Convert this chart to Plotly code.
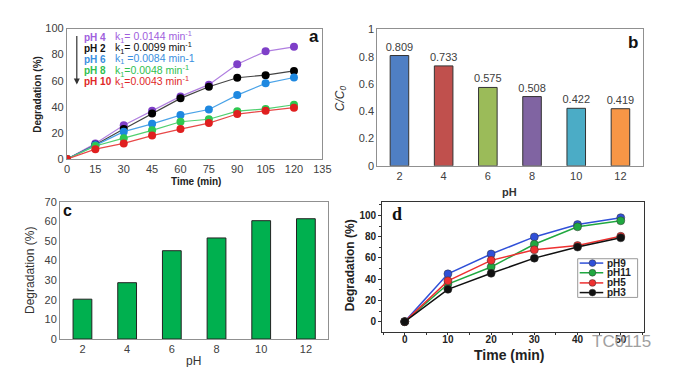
import plotly.graph_objects as go

W, H = 673, 367

# ---------- data ----------
time_a = [0, 15, 30, 45, 60, 75, 90, 105, 120]
a_series = {
    "pH 4": [0, 12, 25.9, 37, 48, 57, 72.7, 82.5, 86],
    "pH 2": [0, 11, 23, 35, 46.5, 55.4, 62.3, 64.3, 67.5],
    "pH 6": [0, 10.8, 21, 27, 33.7, 38, 49, 58, 62.5],
    "pH 8": [0, 10, 16, 22, 28.6, 30.5, 36.7, 38.4, 41.6],
    "pH 10": [0, 7.6, 12, 18, 23, 27.6, 34.5, 37, 39.4],
}
a_k = ["k<sub>1</sub>= 0.0144 min<sup>-1</sup>", "k<sub>1</sub>= 0.0099 min<sup>-1</sup>",
       "k<sub>1</sub> =0.0084 min-1", "k<sub>1</sub>=0.0048 min<sup>-1</sup>",
       "k<sub>1</sub>=0.0043 min<sup>-1</sup>"]
a_line_colors = ["#b07fe0", "#444444", "#4aa3e8", "#50d070", "#e84848"]
a_marker_colors = ["#7e3fc8", "#000000", "#1e88e0", "#2ec850", "#e01f1f"]
a_text_colors = ["#a060dd", "#111111", "#3a8fe0", "#30c050", "#e02828"]

ph_b = ["2", "4", "6", "8", "10", "12"]
cc0_b = [0.809, 0.733, 0.575, 0.508, 0.422, 0.419]
b_colors = ["#4f7fc4", "#c0504d", "#9bbb59", "#8064a2", "#4bacc6", "#f79646"]

ph_c = ["2", "4", "6", "8", "10", "12"]
deg_c = [20.3, 28.7, 45, 51.5, 60.3, 61.3]

time_d = [0, 10, 20, 30, 40, 50]
d_series = {
    "pH9": [0, 45, 63.7, 79.8, 91.4, 97.9],
    "pH11": [0, 35.4, 51.5, 72.9, 89.3, 95],
    "pH5": [0, 38.4, 57.7, 67.6, 71.7, 80.4],
    "pH3": [0, 30.4, 45.5, 59.8, 70.2, 78.9],
}
d_colors = ["#3050d8", "#20a840", "#ee3030", "#111111"]


def px_x(p):
    return p / W


def px_y(p):
    return 1 - p / H


fig = go.Figure()

# ---------- panel a ----------
for i, (name, vals) in enumerate(a_series.items()):
    fig.add_trace(go.Scatter(
        x=time_a, y=vals, mode="lines+markers", name=name, showlegend=False,
        line=dict(color=a_line_colors[i], width=1.2),
        marker=dict(color=a_marker_colors[i], size=8),
        xaxis="x", yaxis="y"))

# ---------- panel b ----------
fig.add_trace(go.Bar(
    x=ph_b, y=cc0_b, marker=dict(color=b_colors, line=dict(color="#333333", width=1)),
    text=[f"{v:.3f}" for v in cc0_b], textposition="outside", constraintext="none",
    textfont=dict(size=11, color="#404040", family="Liberation Sans"),
    cliponaxis=False, showlegend=False, xaxis="x2", yaxis="y2"))

# ---------- panel c ----------
fig.add_trace(go.Bar(
    x=ph_c, y=deg_c, marker=dict(color="#00b04f", line=dict(color="#222222", width=1)),
    showlegend=False, xaxis="x3", yaxis="y3"))

# ---------- panel d ----------
for i, (name, vals) in enumerate(d_series.items()):
    fig.add_trace(go.Scatter(
        x=time_d, y=vals, mode="lines+markers", name=name, showlegend=False,
        line=dict(color=d_colors[i], width=1.5),
        marker=dict(color=d_colors[i], size=8, line=dict(color="#333333", width=0.5)),
        xaxis="x4", yaxis="y4"))

tickfont_a = dict(size=11, color="#404040", family="Liberation Sans")
box = dict(showline=True, mirror=True, linecolor="#909090", linewidth=1.2,
           showgrid=False, zeroline=False)

fig.update_layout(
    width=W, height=H, margin=dict(l=0, r=0, t=0, b=0),
    paper_bgcolor="white", plot_bgcolor="white",
    font=dict(family="Liberation Sans"),
    xaxis=dict(domain=[px_x(57), px_x(317)], range=[0, 135], dtick=15, tickfont=tickfont_a,
               anchor="y", ticks="", **box),
    yaxis=dict(domain=[px_y(150), px_y(15)], range=[0, 100], dtick=20, tickfont=tickfont_a,
               anchor="x", ticks="", **box),
    xaxis2=dict(domain=[px_x(373), px_x(643)], tickfont=tickfont_a, anchor="y2", ticks="", **box),
    yaxis2=dict(domain=[px_y(157), px_y(16)], range=[0, 1], dtick=0.2, tickfont=tickfont_a,
                anchor="x2", ticks="", **box),
    xaxis3=dict(domain=[px_x(50), px_x(323)], tickfont=tickfont_a, anchor="y3", ticks="", **box),
    yaxis3=dict(domain=[px_y(336), px_y(194)], range=[0, 70], dtick=10, tickfont=tickfont_a,
                anchor="x3", ticks="", **box),
    xaxis4=dict(domain=[px_x(378), px_x(645)], range=[-5.2, 55.5], dtick=10, anchor="y4",
                tickfont=dict(size=10, color="#222222", family="Liberation Sans", weight="bold"),
                ticks="outside", ticklen=2, tickcolor="#333333", ticklabelstandoff=-4,
                minor=dict(dtick=5, ticks="outside", ticklen=2, tickcolor="#333333"),
                showline=True, mirror=True, linecolor="#333333", linewidth=1.2,
                showgrid=False, zeroline=False),
    yaxis4=dict(domain=[px_y(329), px_y(194)], range=[-10, 113], tickvals=[0, 20, 40, 60, 80, 100],
                anchor="x4",
                tickfont=dict(size=10, color="#222222", family="Liberation Sans", weight="bold"),
                ticks="outside", ticklen=3, tickcolor="#333333",
                minor=dict(tickvals=[10, 30, 50, 70, 90, 110], ticks="outside", ticklen=2,
                           tickcolor="#333333"),
                showline=True, mirror=True, linecolor="#333333", linewidth=1.2,
                showgrid=False, zeroline=False),
    bargap=0.58,
)

ann = []


def add_text(x, y, text, size=11, color="#222222", bold=False, angle=0, xanchor="center",
             family="Liberation Sans", italic=False):
    t = text
    if bold:
        t = f"<b>{t}</b>"
    if italic:
        t = f"<i>{t}</i>"
    ann.append(dict(x=px_x(x), y=px_y(y), xref="paper", yref="paper", text=t, showarrow=False,
                    textangle=angle, xanchor=xanchor, yanchor="middle",
                    font=dict(size=size, color=color, family=family)))


# panel a labels
add_text(27, 83, "Degradation (%)", size=10, bold=True, angle=-90)
add_text(188, 173, "Time (min)", size=10, bold=True)
add_text(309, 23, "a", size=17, bold=True, color="#111111")
rows_y = [24, 35.5, 47, 58.5, 70]
for i, name in enumerate(a_series.keys()):
    add_text(72, rows_y[i], name, size=10, bold=True, color=a_text_colors[i], xanchor="left")
    add_text(104, rows_y[i], a_k[i], size=10.5, color=a_text_colors[i], xanchor="left")
ann.append(dict(x=px_x(67), y=px_y(73), xref="paper", yref="paper", ax=0, ay=-50,
                axref="pixel", ayref="pixel", showarrow=True, arrowhead=2, arrowsize=1,
                arrowwidth=1.2, arrowcolor="#333333", text=""))

# panel b labels
add_text(336, 87, "C/C<sub>0</sub>", size=12, angle=-90, italic=True, color="#333333")
add_text(508, 184, "pH", size=11, bold=True, color="#333333")
add_text(633, 29, "b", size=17, bold=True, color="#111111")

# panel c labels
add_text(20, 265, "Degradation (%)", size=12, angle=-90, color="#333333")
add_text(186, 359, "pH", size=12, color="#333333")
add_text(58, 203, "c", size=16, bold=True, color="#111111")

# panel d labels
add_text(346, 260, "Degradation (%)", size=12, bold=True, angle=-90, color="#222222")
add_text(508, 353, "Time (min)", size=14, bold=True, color="#222222")
add_text(393, 207, "d", size=18, bold=True, color="#111111", family="Liberation Serif")
add_text(622, 339, "TC0115", size=17, color="#a0a0a0")

# manual legend for panel d
shapes = [dict(type="rect", xref="paper", yref="paper", x0=px_x(577), x1=px_x(638),
               y0=px_y(293), y1=px_y(253), line=dict(color="#999999", width=1),
               fillcolor="white")]
leg_y = [257.5, 267.5, 278, 288]
for i, name in enumerate(d_series.keys()):
    shapes.append(dict(type="line", xref="paper", yref="paper", x0=px_x(579), x1=px_x(603),
                       y0=px_y(leg_y[i]), y1=px_y(leg_y[i]),
                       line=dict(color=d_colors[i], width=1.5)))
    shapes.append(dict(type="circle", xref="paper", yref="paper", x0=px_x(588.5), x1=px_x(595.5),
                       y0=px_y(leg_y[i] + 3.5), y1=px_y(leg_y[i] - 3.5),
                       fillcolor=d_colors[i], line=dict(color="#333333", width=0.5)))
    add_text(605, leg_y[i], name, size=10, bold=True, color="#222222", xanchor="left")

fig.update_layout(annotations=ann, shapes=shapes)
fig.write_html("out.html")
